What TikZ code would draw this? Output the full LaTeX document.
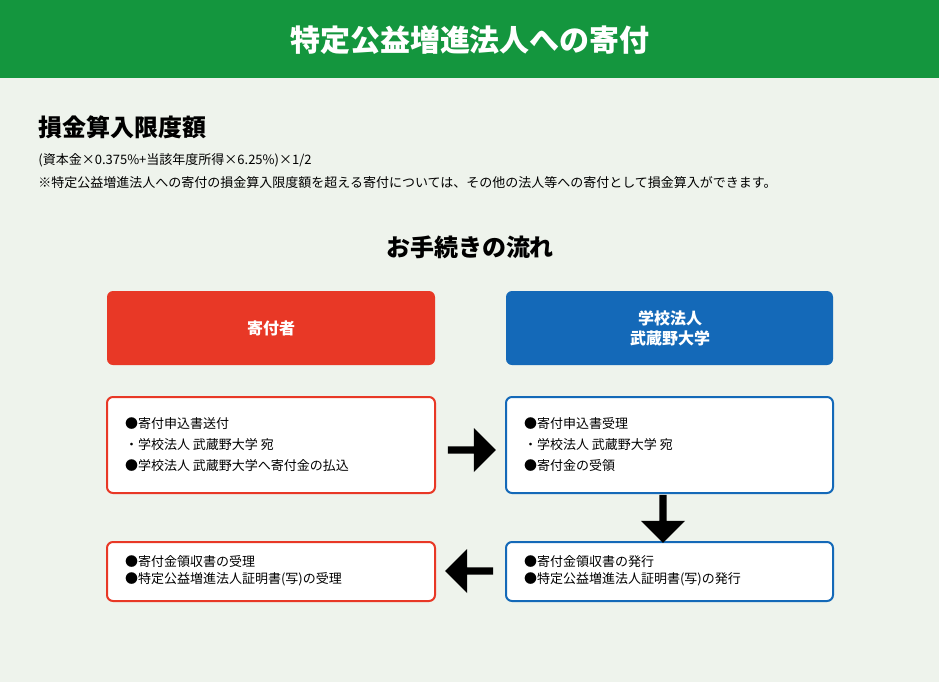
\documentclass[tikz,border=0pt]{standalone}
\usepackage{fontspec}
\setmainfont{Noto Sans CJK JP}
\usetikzlibrary{shapes.arrows}

\definecolor{hdgreen}{RGB}{20,150,62}
\definecolor{bgpale}{RGB}{238,243,236}
\definecolor{donorred}{RGB}{232,56,38}
\definecolor{schoolblue}{RGB}{20,105,184}

\tikzset{
  headbox/.style = {rounded corners=3pt, text=white, font=\fontsize{8}{10}\selectfont\bfseries, align=center},
  stepbox/.style = {rounded corners=3pt, fill=white, line width=1pt, align=left, font=\fontsize{6.5}{9}\selectfont, inner sep=6pt},
  blockarrow/.style = {single arrow, fill=black, minimum height=24pt, minimum width=22pt, single arrow head extend=1pt, inner sep=0pt}
}

\begin{document}
\begin{tikzpicture}[x=0.5pt, y=-0.5pt]
  \fill[bgpale] (0,0) rectangle (939,682);
  \fill[hdgreen] (0,0) rectangle (939,78);
  \node[text=white, font=\fontsize{15}{18}\selectfont\bfseries] (title) at (470,40) {特定公益増進法人への寄付};

  % limit
  \node[anchor=west, font=\fontsize{12}{14}\selectfont\bfseries, inner sep=0pt] (limit) at (38,127) {損金算入限度額};
  \node[anchor=west, font=\fontsize{6.5}{8}\selectfont, inner sep=0pt] (formula) at (38,160) {(資本金×0.375\%+当該年度所得×6.25\%)×1/2};
  \node[anchor=west, font=\fontsize{6.5}{8}\selectfont, inner sep=0pt] (note) at (38,183) {※特定公益増進法人への寄付の損金算入限度額を超える寄付については、その他の法人等への寄付として損金算入ができます。};

  \node[font=\fontsize{12}{14}\selectfont\bfseries] (flow) at (470,247) {お手続きの流れ};

  % heads
  \fill[donorred, rounded corners=3pt] (107,291) rectangle (435,365);
  \node[headbox] (donor) at (271,328) {寄付者};
  \fill[schoolblue, rounded corners=3pt] (506,291) rectangle (833,365);
  \node[headbox] (school) at (670,328) {学校法人\\武蔵野大学};

  % steps
  \draw[donorred, fill=white, line width=1pt, rounded corners=3pt] (107,397) rectangle (435,493);
  \node[anchor=west, align=left, font=\fontsize{6.5}{10.5}\selectfont] (apply) at (118,445) {●寄付申込書送付\\・学校法人 武蔵野大学 宛\\●学校法人 武蔵野大学へ寄付金の払込};
  \draw[schoolblue, fill=white, line width=1pt, rounded corners=3pt] (506,397) rectangle (833,493);
  \node[anchor=west, align=left, font=\fontsize{6.5}{10.5}\selectfont] (accept) at (517,445) {●寄付申込書受理\\・学校法人 武蔵野大学 宛\\●寄付金の受領};
  \draw[schoolblue, fill=white, line width=1pt, rounded corners=3pt] (506,542) rectangle (833,601);
  \node[anchor=west, align=left, font=\fontsize{6.5}{8.5}\selectfont] (issue) at (517,571) {●寄付金領収書の発行\\●特定公益増進法人証明書(写)の発行};
  \draw[donorred, fill=white, line width=1pt, rounded corners=3pt] (107,542) rectangle (435,601);
  \node[anchor=west, align=left, font=\fontsize{6.5}{8.5}\selectfont] (receipt) at (118,571) {●寄付金領収書の受理\\●特定公益増進法人証明書(写)の受理};

  % arrows
  \node[blockarrow] (toright) at (470,450) {};
  \node[blockarrow, shape border rotate=270] (todown) at (663,517) {};
  \node[blockarrow, shape border rotate=180] (toleft) at (471,571) {};
\end{tikzpicture}
\end{document}
